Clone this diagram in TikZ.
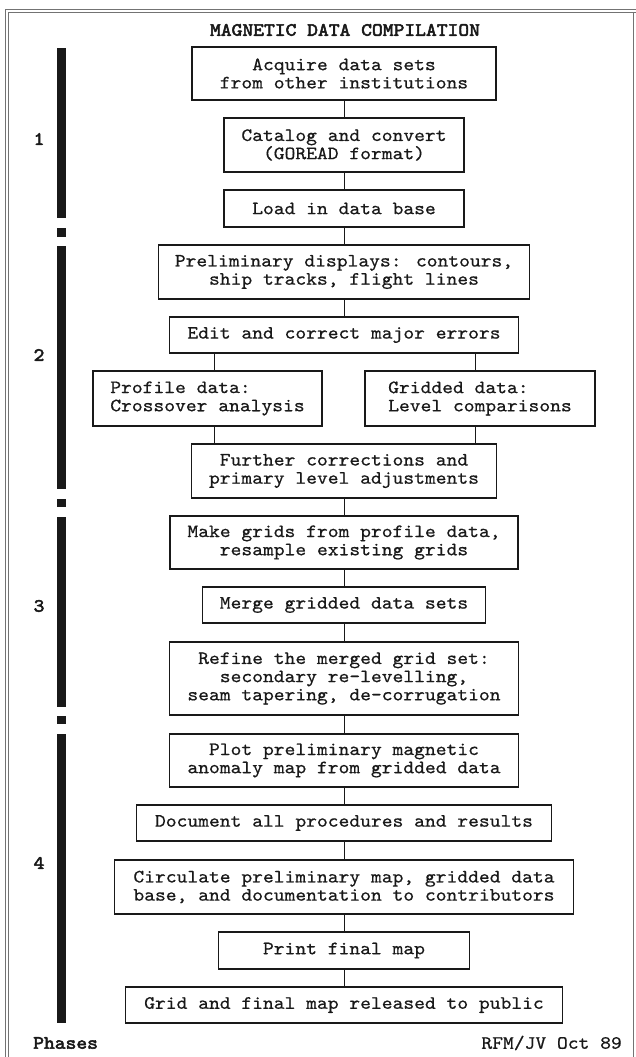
\documentclass[tikz,border=0pt]{standalone}
\usepackage{fontspec}
\newfontfamily\courreg{lmmono10-regular.otf}[FakeStretch=1.094,FakeBold=0.6]
\newfontfamily\courbold{lmmono10-regular.otf}[FakeStretch=1.094,FakeBold=2.8]
\newcommand{\txtfont}{\courreg\fontsize{18.8}{18.2}\selectfont}
\newcommand{\boldtxt}{\courbold\fontsize{18.8}{18.2}\selectfont}
\begin{document}
\begin{tikzpicture}[x=1pt,y=-1pt,
  box/.style={draw=black!90, line width=1.1pt, rectangle, inner sep=0pt, align=center, font=\txtfont, text=black!90},
  lbox/.style={box, align=left},
  conn/.style={draw=black!90, line width=1pt},
  bar/.style={fill=black!90},
  frame/.style={draw=black!55, line width=0.9pt},
  lbl/.style={font=\boldtxt, text=black!90, inner sep=0pt}]
\fill[white] (0,0) rectangle (636,1057);
\useasboundingbox (0,0) rectangle (636,1057);
% frame
\draw[frame] (5,1060) -- (5,9.5) -- (640,9.5);
\draw[frame] (8,1060) -- (8,12.5) -- (640,12.5);
\draw[frame, line width=0.7pt] (633,12.5) -- (633,1060);
% title
\node[lbl] (title) at (345,30) {MAGNETIC DATA COMPILATION};
% boxes
\node[box, minimum width=304, minimum height=53] (b1) at (344,73.5) {Acquire data sets\\from other institutions};
\node[box, minimum width=240, minimum height=54] (b2) at (344,145) {Catalog and convert\\(GOREAD format)};
\node[box, minimum width=240, minimum height=37] (b3) at (344,208.5) {Load in data base};
\node[box, minimum width=371, minimum height=54] (b4) at (344,272) {Preliminary displays: contours,\\ship tracks, flight lines};
\node[box, minimum width=349, minimum height=36] (b5) at (344,335) {Edit and correct major errors};
\node[lbox, minimum width=229, minimum height=55] (b6) at (207.5,398.5) {Profile data:\\Crossover analysis};
\node[lbox, minimum width=230, minimum height=55] (b7) at (480,398.5) {Gridded data:\\Level comparisons};
\node[box, minimum width=305, minimum height=54] (b8) at (344,471) {Further corrections and\\primary level adjustments};
\node[box, minimum width=348, minimum height=53] (b9) at (344,542.5) {Make grids from profile data,\\resample existing grids};
\node[box, minimum width=283, minimum height=36] (b10) at (344,605) {Merge gridded data sets};
\node[box, minimum width=349, minimum height=73] (b11) at (344,678.5) {Refine the merged grid set:\\secondary re-levelling,\\seam tapering, de-corrugation};
\node[box, minimum width=349, minimum height=53] (b12) at (344,760.5) {Plot preliminary magnetic\\anomaly map from gridded data};
\node[box, minimum width=415, minimum height=36] (b13) at (344,823) {Document all procedures and results};
\node[box, minimum width=459, minimum height=54] (b14) at (344,887) {Circulate preliminary map, gridded data\\base, and documentation to contributors};
\node[box, minimum width=251, minimum height=37] (b15) at (344,950.5) {Print final map};
\node[box, minimum width=437, minimum height=36] (b16) at (344,1005) {Grid and final map released to public};
% connectors
\foreach \a/\b in {b1/b2,b2/b3,b3/b4,b4/b5,b8/b9,b9/b10,b10/b11,b11/b12,b12/b13,b13/b14,b14/b15,b15/b16}
  \draw[conn] (\a.south) -- (\a.south |- \b.north);
\coordinate (cL) at (214,0);
\coordinate (cR) at (475,0);
\draw[conn] (b5.south -| cL) -- (b6.north -| cL);
\draw[conn] (b5.south -| cR) -- (b7.north -| cR);
\draw[conn] (b6.south -| cL) -- (b8.north -| cL);
\draw[conn] (b7.south -| cR) -- (b8.north -| cR);
% phase bars
\fill[bar] (57,48) rectangle (66,218);
\fill[bar] (57,228) rectangle (66,237);
\fill[bar] (57,246) rectangle (66,489);
\fill[bar] (57,499) rectangle (66,507);
\fill[bar] (57,517) rectangle (66,707);
\fill[bar] (57,716) rectangle (66,724);
\fill[bar] (57,734) rectangle (66,1023);
% phase labels
\node[lbl] (p1) at (39,139) {1};
\node[lbl] (p2) at (39,355) {2};
\node[lbl] (p3) at (39,606) {3};
\node[lbl] (p4) at (39,863) {4};
\node[lbl, anchor=west] (phases) at (33,1043) {Phases};
\node[lbl, font=\txtfont, anchor=east] (sig) at (622,1043) {RFM/JV Oct 89};
\end{tikzpicture}
\end{document}
